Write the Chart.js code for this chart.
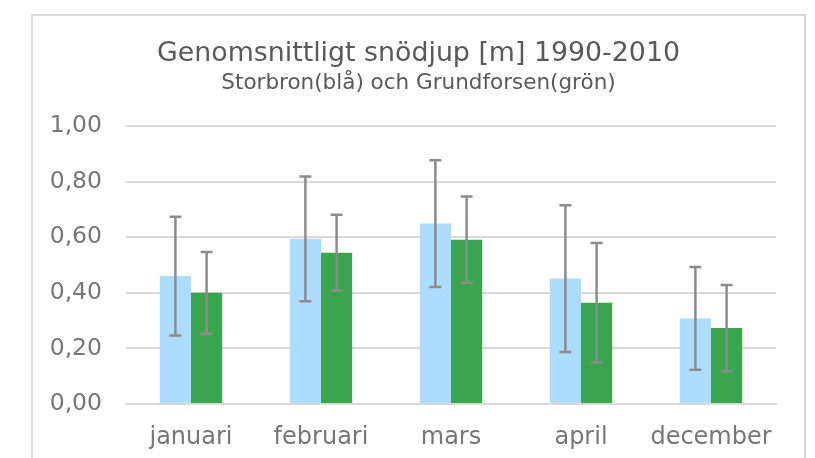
<!DOCTYPE html>
<html>
<head>
<meta charset="utf-8">
<script src="https://cdn.jsdelivr.net/npm/chart.js@4/dist/chart.umd.min.js"></script>
<style>
html,body{margin:0;padding:0;background:#fff;}
#wrap{width:815px;height:458px;position:relative;}
</style>
</head>
<body>
<div id="wrap"><canvas id="c" width="815" height="458"></canvas></div>
<script>
const categories = ['januari', 'februari', 'mars', 'april', 'december'];
const storbronMean = [0.460, 0.594, 0.649, 0.451, 0.308];
const storbronStd  = [0.214, 0.224, 0.228, 0.264, 0.185];
const grundforsenMean = [0.400, 0.544, 0.591, 0.364, 0.273];
const grundforsenStd  = [0.147, 0.137, 0.155, 0.215, 0.155];
const yTicks = [0, 0.2, 0.4, 0.6, 0.8, 1.0];

const FONT = 'DejaVu Sans';

const framePlugin = {
  id: 'frame',
  beforeDraw(chart) {
    const ctx = chart.ctx;
    ctx.save();
    ctx.fillStyle = '#ffffff';
    ctx.fillRect(0, 0, chart.width, chart.height);
    ctx.strokeStyle = '#d9d9d9';
    ctx.lineWidth = 2;
    ctx.strokeRect(32, 15, 773, 470);
    ctx.restore();
  }
};

const errorBarPlugin = {
  id: 'errorBars',
  afterDatasetsDraw(chart) {
    const ctx = chart.ctx;
    const y = chart.scales.y;
    chart.data.datasets.forEach((ds, di) => {
      const meta = chart.getDatasetMeta(di);
      meta.data.forEach((bar, i) => {
        const m = ds.data[i], s = ds.errors[i];
        const yt = y.getPixelForValue(m + s);
        const yb = y.getPixelForValue(m - s);
        const x = bar.x;
        ctx.save();
        ctx.strokeStyle = '#8c8c8c';
        ctx.lineWidth = 2.5;
        ctx.beginPath();
        ctx.moveTo(x, yt); ctx.lineTo(x, yb);
        ctx.moveTo(x - 6, yt); ctx.lineTo(x + 6, yt);
        ctx.moveTo(x - 6, yb); ctx.lineTo(x + 6, yb);
        ctx.stroke();
        ctx.restore();
      });
    });
  }
};

new Chart(document.getElementById('c'), {
  type: 'bar',
  data: {
    labels: categories,
    datasets: [
      { label: 'Storbron', data: storbronMean, errors: storbronStd, backgroundColor: '#addcfe',
        categoryPercentage: 0.48, barPercentage: 1.0 },
      { label: 'Grundforsen', data: grundforsenMean, errors: grundforsenStd, backgroundColor: '#3ba44f',
        categoryPercentage: 0.48, barPercentage: 1.0 }
    ]
  },
  options: {
    responsive: false,
    animation: false,
    layout: { padding: { left: 32, right: 10, top: 0, bottom: 0 } },
    plugins: {
      legend: { display: false },
      tooltip: { enabled: false },
      title: {
        display: true,
        text: 'Genomsnittligt snödjup [m] 1990-2010',
        color: '#595959',
        font: { family: FONT, size: 26.8, weight: 'normal', lineHeight: 1.0 },
        padding: { top: 41, bottom: 3 }
      },
      subtitle: {
        display: true,
        text: 'Storbron(blå) och Grundforsen(grön)',
        color: '#595959',
        font: { family: FONT, size: 21.5, weight: 'normal', lineHeight: 1.2 },
        padding: { top: 0, bottom: 29.4 }
      }
    },
    scales: {
      x: {
        grid: { display: false, drawTicks: false },
        border: { display: true, color: '#d9d9d9', width: 2 },
        ticks: { color: '#767676', font: { family: FONT, size: 24 }, padding: 19 },
        afterFit(s) { s.height = 54; }
      },
      y: {
        min: 0, max: 1,
        afterBuildTicks(s) { s.ticks = yTicks.map(v => ({ value: v })); },
        grid: { color: '#d9d9d9', lineWidth: 2, drawTicks: false },
        border: { display: false },
        ticks: {
          color: '#767676', font: { family: FONT, size: 23.5 }, padding: 24,
          callback: v => v.toFixed(2).replace('.', ',')
        },
        afterFit(s) { s.width = 94; }
      },
      yRight: {
        position: 'right',
        display: true,
        min: 0, max: 1,
        grid: { display: false, drawTicks: false },
        border: { display: false },
        ticks: { display: false },
        afterFit(s) { s.width = 29; }
      }
    }
  },
  plugins: [framePlugin, errorBarPlugin]
});
</script>
</body>
</html>
